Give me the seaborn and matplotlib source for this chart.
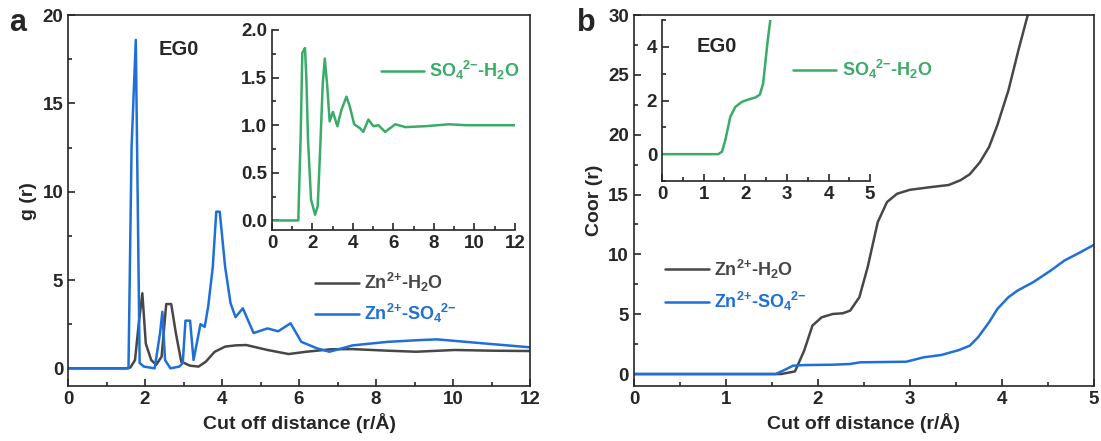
import matplotlib
matplotlib.use("Agg")
import matplotlib.pyplot as plt
from matplotlib.ticker import MultipleLocator, FormatStrFormatter
import pandas as pd
import seaborn as sns

# ---- panel a: g(r) ----
r_zw = [0, 1.5, 1.62, 1.74, 1.84, 1.93, 2.02, 2.16, 2.29, 2.43, 2.55, 2.68, 2.80, 2.94, 3.17, 3.39, 3.58,
        3.81, 4.08, 4.35, 4.63, 5.18, 5.73, 6.19, 6.83, 7.39, 8.3, 9.04, 10.05, 11.0, 12.0]
g_zw = [0, 0, 0.05, 0.47, 2.6, 4.25, 1.4, 0.47, 0.2, 0.66, 3.64, 3.64, 2.0, 0.38, 0.15, 0.1, 0.38,
        0.94, 1.23, 1.3, 1.32, 1.04, 0.81, 0.94, 1.08, 1.09, 1.0, 0.94, 1.04, 1.0, 0.98]

r_zs = [0, 1.57, 1.65, 1.76, 1.86, 1.97, 2.25, 2.39, 2.45, 2.52, 2.66, 2.89, 2.98, 3.05, 3.17, 3.26,
        3.44, 3.55, 3.64, 3.76, 3.85, 3.94, 4.08, 4.22, 4.35, 4.54, 4.82, 5.18, 5.46, 5.78, 6.06, 6.47,
        6.79, 7.39, 8.3, 9.13, 9.59, 10.6, 12.0]
g_zs = [0, 0, 12.5, 18.6, 0.3, 0.1, 0, 2.0, 3.2, 0.47, 0, 0.1, 0.3, 2.7, 2.7, 0.47,
        2.5, 2.35, 3.5, 5.75, 8.87, 8.87, 5.75, 3.7, 2.9, 3.4, 2.0, 2.26, 2.1, 2.55, 1.5, 1.13,
        0.94, 1.3, 1.5, 1.6, 1.64, 1.45, 1.19]

r_sw = [0, 1.3, 1.42, 1.5, 1.56, 1.63, 1.7, 1.78, 1.93, 2.13, 2.26, 2.38, 2.51, 2.61, 2.73, 2.85, 3.01, 3.23,
        3.43, 3.68, 3.84, 4.06, 4.34, 4.51, 4.76, 5.01, 5.26, 5.59, 6.09, 6.59, 7.59, 8.75, 9.58, 12.0]
g_sw = [0, 0, 0.9, 1.76, 1.78, 1.81, 1.5, 0.85, 0.22, 0.06, 0.15, 0.74, 1.44, 1.70, 1.41, 1.04, 1.14, 0.99,
        1.16, 1.30, 1.20, 1.01, 0.97, 0.93, 1.06, 0.99, 1.0, 0.93, 1.01, 0.98, 0.99, 1.01, 1.0, 1.0]

# ---- panel b: coordination number ----
c_r_zw = [0, 1.6, 1.75, 1.85, 1.94, 2.04, 2.16, 2.27, 2.35, 2.45, 2.54, 2.65, 2.75, 2.86, 3.0, 3.23,
          3.42, 3.55, 3.65, 3.76, 3.86, 3.95, 4.07, 4.18, 4.28, 4.4]
c_zw = [0, 0, 0.22, 1.95, 4.05, 4.74, 5.02, 5.08, 5.3, 6.42, 8.93, 12.7, 14.37, 15.07, 15.4, 15.63,
        15.8, 16.2, 16.7, 17.7, 18.98, 20.8, 23.7, 27.1, 30.0, 33.5]

c_r_zs = [0, 1.54, 1.62, 1.73, 1.85, 2.16, 2.35, 2.46, 2.96, 3.15, 3.34, 3.53, 3.65, 3.74, 3.86, 3.95,
          4.07, 4.17, 4.34, 4.53, 4.68, 4.84, 5.0]
c_zs = [0, 0, 0.28, 0.7, 0.75, 0.78, 0.84, 0.98, 1.03, 1.4, 1.59, 2.0, 2.37, 3.07, 4.33, 5.44,
        6.42, 6.98, 7.68, 8.65, 9.49, 10.13, 10.8]

c_r_sw = [0, 1.35, 1.44, 1.52, 1.64, 1.76, 1.92, 2.08, 2.24, 2.35, 2.43, 2.48, 2.54, 2.6, 2.66]
c_sw = [0, 0, 0.09, 0.52, 1.39, 1.76, 1.95, 2.04, 2.11, 2.22, 2.63, 3.38, 4.25, 4.97, 5.7]

lbl_zw = r'Zn$^{2{+}}$-H$_{2}$O'
lbl_zs = r'Zn$^{2{+}}$-SO$_{4}$$^{2{-}}$'
lbl_sw = r'SO$_{4}$$^{2{-}}$-H$_{2}$O'

c_gray = '#474747'
c_blue = '#1f6fd8'
c_green = '#3aab68'

sns.set_style("ticks")
plt.rcParams['font.family'] = ['Liberation Sans', 'DejaVu Sans']
plt.rcParams['font.weight'] = 'bold'
plt.rcParams['mathtext.fontset'] = 'custom'
plt.rcParams['mathtext.rm'] = 'Liberation Sans:bold'
plt.rcParams['mathtext.it'] = 'Liberation Sans:bold'
plt.rcParams['mathtext.bf'] = 'Liberation Sans:bold'
plt.rcParams['axes.linewidth'] = 1.2


def style_axes(ax, fs=13.5):
    ax.tick_params(which='both', direction='in', width=1.2, labelsize=fs, top=False, right=False)
    ax.tick_params(which='major', length=5)
    ax.tick_params(which='minor', length=3)
    for t in ax.get_xticklabels() + ax.get_yticklabels():
        t.set_fontweight('bold')


fig = plt.figure(figsize=(11.01, 4.41), dpi=100)

# panel a
ax1 = fig.add_axes([0.0618, 0.1247, 0.4196, 0.841])
df_zw = pd.DataFrame({'r': r_zw, 'g': g_zw})
df_zs = pd.DataFrame({'r': r_zs, 'g': g_zs})
sns.lineplot(data=df_zw, x='r', y='g', ax=ax1, color=c_gray, lw=1.8, label=lbl_zw, sort=False)
sns.lineplot(data=df_zs, x='r', y='g', ax=ax1, color=c_blue, lw=1.8, label=lbl_zs, sort=False)
ax1.set_xlim(0, 12)
ax1.set_ylim(-1, 20)
ax1.xaxis.set_major_locator(MultipleLocator(2))
ax1.xaxis.set_minor_locator(MultipleLocator(1))
ax1.yaxis.set_major_locator(MultipleLocator(5))
ax1.yaxis.set_minor_locator(MultipleLocator(2.5))
ax1.set_xlabel('Cut off distance (r/Å)', fontsize=14, fontweight='bold')
ax1.set_ylabel('g (r)', fontsize=14, fontweight='bold', labelpad=4)
style_axes(ax1)
ax1.legend(loc='upper left', bbox_to_anchor=(0.5, 0.354), frameon=False, fontsize=13,
           handlelength=2.4, handletextpad=0.3, labelspacing=0.45, labelcolor='linecolor')
ax1.text(0.197, 0.893, 'EG0', transform=ax1.transAxes, fontsize=14.5, fontweight='bold')
fig.text(0.008, 0.93, 'a', fontsize=22, fontweight='bold')

# inset a
ins1 = fig.add_axes([0.247, 0.4785, 0.2207, 0.4535])
df_sw = pd.DataFrame({'r': r_sw, 'g': g_sw})
sns.lineplot(data=df_sw, x='r', y='g', ax=ins1, color=c_green, lw=1.8, label=lbl_sw, sort=False)
ins1.set_xlim(0, 12)
ins1.set_ylim(-0.1, 2.0)
ins1.xaxis.set_major_locator(MultipleLocator(2))
ins1.xaxis.set_minor_locator(MultipleLocator(1))
ins1.yaxis.set_major_locator(MultipleLocator(0.5))
ins1.yaxis.set_minor_locator(MultipleLocator(0.25))
ins1.set_xlabel('')
ins1.set_ylabel('')
ins1.yaxis.set_major_formatter(FormatStrFormatter('%.1f'))
sns.despine(ax=ins1)
style_axes(ins1)
ins1.legend(loc='upper left', bbox_to_anchor=(0.38, 0.935), frameon=False, fontsize=13,
            handlelength=2.4, handletextpad=0.3, labelcolor='linecolor')

# panel b
ax2 = fig.add_axes([0.5758, 0.1247, 0.4178, 0.841])
df_czw = pd.DataFrame({'r': c_r_zw, 'n': c_zw})
df_czs = pd.DataFrame({'r': c_r_zs, 'n': c_zs})
sns.lineplot(data=df_czw, x='r', y='n', ax=ax2, color=c_gray, lw=1.8, label=lbl_zw, sort=False)
sns.lineplot(data=df_czs, x='r', y='n', ax=ax2, color=c_blue, lw=1.8, label=lbl_zs, sort=False)
ax2.set_xlim(0, 5)
ax2.set_ylim(-1, 30)
ax2.xaxis.set_major_locator(MultipleLocator(1))
ax2.xaxis.set_minor_locator(MultipleLocator(0.5))
ax2.yaxis.set_major_locator(MultipleLocator(5))
ax2.yaxis.set_minor_locator(MultipleLocator(2.5))
ax2.set_xlabel('Cut off distance (r/Å)', fontsize=14, fontweight='bold')
ax2.set_ylabel('Coor (r)', fontsize=14, fontweight='bold', labelpad=4)
style_axes(ax2)
ax2.legend(loc='upper left', bbox_to_anchor=(0.033, 0.39), frameon=False, fontsize=13,
           handlelength=2.4, handletextpad=0.3, labelspacing=0.5, labelcolor='linecolor')
fig.text(0.524, 0.93, 'b', fontsize=22, fontweight='bold')

# inset b
ins2 = fig.add_axes([0.6013, 0.5896, 0.189, 0.365])
df_csw = pd.DataFrame({'r': c_r_sw, 'n': c_sw})
sns.lineplot(data=df_csw, x='r', y='n', ax=ins2, color=c_green, lw=1.8, label=lbl_sw, sort=False)
ins2.set_xlim(0, 5)
ins2.set_ylim(-1, 5)
ins2.xaxis.set_major_locator(MultipleLocator(1))
ins2.xaxis.set_minor_locator(MultipleLocator(0.5))
ins2.yaxis.set_major_locator(MultipleLocator(2))
ins2.yaxis.set_minor_locator(MultipleLocator(1))
ins2.set_xlabel('')
ins2.set_ylabel('')
sns.despine(ax=ins2)
style_axes(ins2)
ins2.legend(loc='upper left', bbox_to_anchor=(0.552, 0.863), frameon=False, fontsize=13,
            handlelength=2.4, handletextpad=0.3, labelcolor='linecolor')
ins2.text(0.167, 0.8, 'EG0', transform=ins2.transAxes, fontsize=14.5, fontweight='bold')

fig.savefig('out.png', dpi=100)
